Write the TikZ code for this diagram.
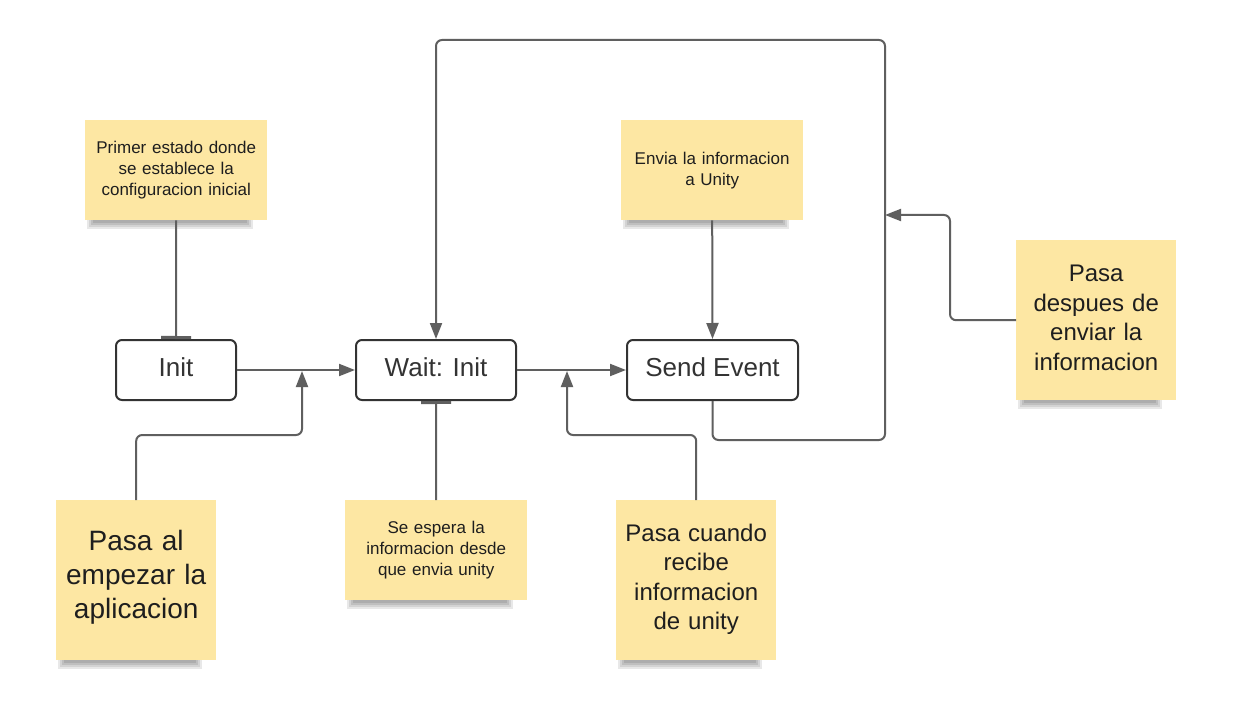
\documentclass[tikz,border=0pt]{standalone}
\usepackage{fontspec}
\setmainfont{Liberation Sans}
\usetikzlibrary{arrows.meta,backgrounds,calc}
\definecolor{notefill}{RGB}{253,231,163}
\definecolor{linkgray}{RGB}{95,95,95}
\definecolor{boxline}{RGB}{51,51,51}
\definecolor{txt}{RGB}{30,30,30}
\begin{document}
\begin{tikzpicture}[x=1pt,y=-1pt,
  notebox/.style={fill=notefill, inner sep=0pt, align=center, text=txt, anchor=north west},
  smallnote/.style={notebox, minimum width=182pt, minimum height=100pt, text width=176pt, font=\fontsize{17}{21}\selectfont},
  bignote/.style={notebox, minimum width=160pt, minimum height=160pt, text width=156pt, font=\fontsize{24}{29.5}\selectfont},
  hugenote/.style={bignote, font=\fontsize{28}{34}\selectfont},
  statebox/.style={draw=boxline, line width=2pt, rounded corners=6pt, fill=white, minimum height=60pt, text=boxline, font=\fontsize{26}{30}\selectfont, inner sep=0pt, text height=19pt, text depth=7pt},
  link/.style={draw=linkgray, line width=2pt, rounded corners=6pt},
  arr/.style={link, -{Triangle[length=16pt,width=12pt]}},
  barend/.style={link, -{Bar[width=30pt,line width=3pt]}},
]
\useasboundingbox (0,0) rectangle (1233,719);

% notes
\node[smallnote] (n1) at (85,120) {Primer estado donde\\se establece la\\configuracion inicial};
\node[smallnote] (n2) at (621,120) {Envia la informacion\\a Unity};
\node[bignote, text depth=93pt] (n3) at (1016,240) {Pasa\\despues de\\enviar la\\informacion};
\node[hugenote, text depth=80pt] (n4) at (56,500) {Pasa al\\empezar la\\aplicacion};
\node[smallnote] (n5) at (345,500) {Se espera la\\informacion desde\\que envia unity};
\node[bignote, text depth=95pt] (n6) at (616,500) {Pasa cuando\\recibe\\informacion\\de unity};

% states
\node[statebox, minimum width=120pt] (init) at (176,370) {Init};
\node[statebox, minimum width=160pt] (wait) at (436,370) {Wait: Init};
\node[statebox, minimum width=171pt] (send) at (712.5,370) {Send Event};

% helper coordinates
\coordinate (loopB) at (885,440);
\coordinate (loopT) at (885,40);
\coordinate (n3bend) at (950,215);
\coordinate (n3in) at (885,215);
\coordinate (j1b) at (302,435);
\coordinate (j1) at (302,371);
\coordinate (j2b) at (567,435);
\coordinate (j2) at (567,371);

% connectors
\draw[barend] (n1.south) -- (init.north);
\draw[arr] (init.east) -- (wait.west);
\draw[arr] (wait.east) -- (send.west);
\draw[barend] (n5.north) -- (wait.south);
\draw[arr] (n2.south) -- (send.north);
\draw[arr] (n4.north) |- (j1b) -- (j1);
\draw[arr] (n6.north) |- (j2b) -- (j2);
\draw[arr] (send.south) |- (loopB) -- (loopT) -| (wait.north);
\draw[arr] (n3.west) -| (n3bend) -- (n3in);

% background and shadows
\begin{scope}[on background layer]
  \fill[white] (0,0) rectangle (1233,719);
  \foreach \n in {n1,n2,n3,n4,n5,n6}{
    \foreach \k in {0,1,2,3}{
      \fill[black,opacity=0.09] ($(\n.south west)+(2+2*\k,-6)$) rectangle ($(\n.south east)+(-14-2*\k,9-2*\k)$);
    }
  }
\end{scope}
\end{tikzpicture}
\end{document}
